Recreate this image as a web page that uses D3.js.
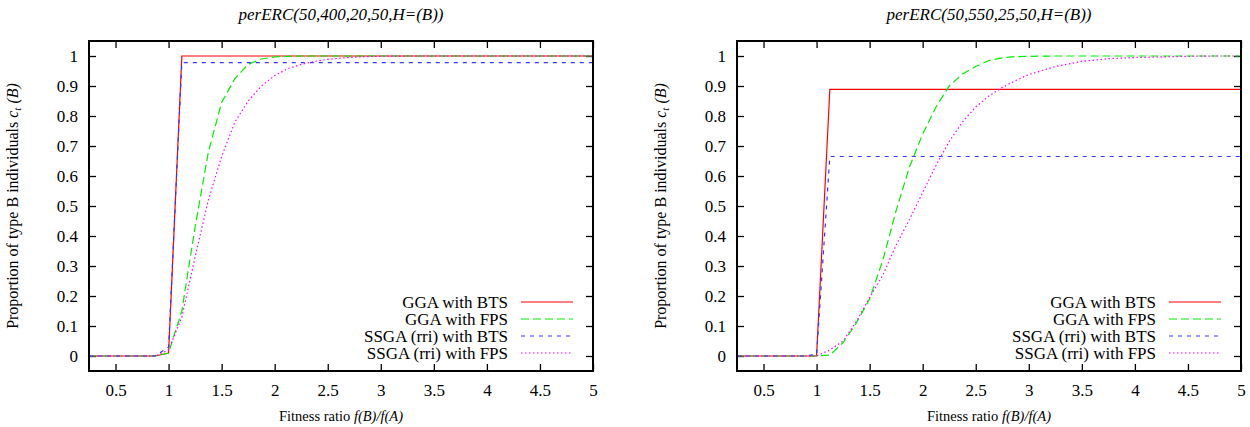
<!DOCTYPE html>
<html>
<head>
<meta charset="utf-8">
<script src="https://cdn.jsdelivr.net/npm/d3@7"></script>
<style>
  body { margin: 0; background: #fff; }
  svg text { font-family: "Liberation Serif", "Times New Roman", Times, "DejaVu Serif", serif; fill: #000; }
</style>
</head>
<body>
<div id="chart"></div>
<script>
// fitness ratio samples shared by both panels
var ratios = [0.25, 0.5, 0.75, 0.875, 1, 1.125, 1.25, 1.375, 1.5, 1.625, 1.75, 1.875, 2, 2.125,
    2.25, 2.375, 2.5, 2.625, 2.75, 2.875, 3, 3.25, 3.5, 3.75, 4, 4.25, 4.5, 4.75, 5];

var seriesNames = ['GGA with BTS', 'GGA with FPS', 'SSGA (rri) with BTS', 'SSGA (rri) with FPS'];
var xTicks = [0.5, 1, 1.5, 2, 2.5, 3, 3.5, 4, 4.5, 5];
var yTicks = [0, 0.1, 0.2, 0.3, 0.4, 0.5, 0.6, 0.7, 0.8, 0.9, 1];

// left panel: perERC(50,400,20,50,H=(B))
var leftGgaBts = [0, 0, 0, 0, 0.01, 1, 1, 1, 1, 1, 1, 1, 1, 1, 1, 1, 1, 1, 1, 1, 1, 1, 1, 1, 1, 1, 1, 1, 1];
var leftGgaFps = [0, 0, 0, 0, 0.01, 0.15, 0.43, 0.68, 0.845, 0.925, 0.972, 0.99, 0.997, 0.999,
    1, 1, 1, 1, 1, 1, 1, 1, 1, 1, 1, 1, 1, 1, 1];
var leftSsgaBts = [0, 0, 0, 0, 0.03, 0.978, 0.978, 0.978, 0.978, 0.978, 0.978, 0.978, 0.978, 0.978,
    0.978, 0.978, 0.978, 0.978, 0.978, 0.978, 0.978, 0.978, 0.978, 0.978, 0.978, 0.978, 0.978, 0.978, 0.978];
var leftSsgaFps = [0, 0, 0, 0, 0.02, 0.13, 0.33, 0.52, 0.665, 0.78, 0.85, 0.9, 0.935, 0.958,
    0.972, 0.982, 0.989, 0.993, 0.996, 0.998, 0.999, 1, 1, 1, 1, 1, 1, 1, 1];

// right panel: perERC(50,550,25,50,H=(B))
var rightGgaBts = [0, 0, 0, 0, 0, 0.889, 0.889, 0.889, 0.889, 0.889, 0.889, 0.889, 0.889, 0.889,
    0.889, 0.889, 0.889, 0.889, 0.889, 0.889, 0.889, 0.889, 0.889, 0.889, 0.889, 0.889, 0.889, 0.889, 0.889];
var rightGgaFps = [0, 0, 0, 0, 0, 0.003, 0.045, 0.11, 0.19, 0.32, 0.485, 0.63, 0.74, 0.83,
    0.9, 0.94, 0.965, 0.985, 0.994, 0.998, 0.999, 1, 1, 1, 1, 1, 1, 1, 1];
var rightSsgaBts = [0, 0, 0, 0, 0.005, 0.665, 0.665, 0.665, 0.665, 0.665, 0.665, 0.665, 0.665, 0.665,
    0.665, 0.665, 0.665, 0.665, 0.665, 0.665, 0.665, 0.665, 0.665, 0.665, 0.665, 0.665, 0.665, 0.665, 0.665];
var rightSsgaFps = [0, 0, 0, 0, 0, 0.02, 0.05, 0.115, 0.195, 0.27, 0.37, 0.455, 0.545, 0.635,
    0.715, 0.78, 0.83, 0.867, 0.895, 0.918, 0.938, 0.965, 0.982, 0.991, 0.995, 0.997, 0.999, 1, 1];

var colors = ['#ff0000', '#00ee00', '#3535ff', '#ff00ff'];
var dashes = [null, '8,4', '4,5', '1.5,2.5'];

var svgWidth = 1250;
var svgHeight = 427;

var svg = d3.select('#chart')
    .append('svg')
    .attr('width', svgWidth)
    .attr('height', svgHeight);

function drawPanel(left, title, series) {
    var width = 504;
    var top = 41, height = 330;

    var g = svg.append('g')
        .attr('transform', `translate(${left}, ${top})`);

    var xScale = d3.scaleLinear().domain([0.25, 5]).range([0, width]);
    var yScale = d3.scaleLinear().domain([-0.05, 1.05]).range([height, 0]);
    var fmt = d3.format('~g');

    // ticks on all four sides, pointing inward
    var tickLen = 7;
    g.append('g').attr('transform', `translate(0,${height})`)
        .call(d3.axisBottom(xScale).tickValues(xTicks).tickSizeInner(-tickLen).tickSizeOuter(0).tickPadding(13)
            .tickFormat(fmt));
    g.append('g')
        .call(d3.axisTop(xScale).tickValues(xTicks).tickSizeInner(-tickLen).tickSizeOuter(0).tickFormat(''));
    g.append('g')
        .call(d3.axisLeft(yScale).tickValues(yTicks).tickSizeInner(-tickLen).tickSizeOuter(0).tickPadding(11)
            .tickFormat(fmt));
    g.append('g').attr('transform', `translate(${width},0)`)
        .call(d3.axisRight(yScale).tickValues(yTicks).tickSizeInner(-tickLen).tickSizeOuter(0).tickFormat(''));

    g.selectAll('.domain').remove();
    g.selectAll('.tick line').attr('stroke', '#000').attr('stroke-width', 1.3);
    g.selectAll('.tick text')
        .attr('font-size', 17)
        .attr('fill', '#000');

    var line = d3.line()
        .x((d, i) => xScale(ratios[i]))
        .y(d => yScale(d));

    series.forEach(function(values, k) {
        g.append('path')
            .datum(values)
            .attr('d', line)
            .attr('fill', 'none')
            .attr('stroke', colors[k])
            .attr('stroke-width', 1.2)
            .attr('stroke-dasharray', dashes[k]);
    });

    g.append('rect')
        .attr('width', width)
        .attr('height', height)
        .attr('fill', 'none')
        .attr('stroke', '#000')
        .attr('stroke-width', 2);

    // legend
    var legend = g.append('g').attr('transform', `translate(${width - 72}, ${302 - top})`);
    seriesNames.forEach(function(name, k) {
        var row = legend.append('g').attr('transform', `translate(0, ${k * 17})`);
        row.append('text')
            .attr('x', -13)
            .attr('y', 5.5)
            .attr('text-anchor', 'end')
            .attr('font-size', 17)
            .text(name);
        row.append('line')
            .attr('x1', 0)
            .attr('x2', 52)
            .attr('stroke', colors[k])
            .attr('stroke-width', 1.2)
            .attr('stroke-dasharray', dashes[k]);
    });

    // title
    svg.append('text')
        .attr('x', left + width / 2)
        .attr('y', 20)
        .attr('text-anchor', 'middle')
        .attr('font-size', 17)
        .attr('font-style', 'italic')
        .text(title);

    // x label
    var xl = svg.append('text')
        .attr('x', left + width / 2)
        .attr('y', 421)
        .attr('text-anchor', 'middle')
        .attr('font-size', 14.5);
    xl.append('tspan').text('Fitness ratio ');
    xl.append('tspan').attr('font-style', 'italic').text('f(B)/f(A)');

    // y label
    var yl = svg.append('text')
        .attr('transform', `translate(${left - 71}, ${top + height / 2}) rotate(-90)`)
        .attr('text-anchor', 'middle')
        .attr('font-size', 16);
    yl.append('tspan').text('Proportion of type B individuals ');
    yl.append('tspan').attr('font-style', 'italic').text('c');
    yl.append('tspan').attr('font-style', 'italic').attr('font-size', 11).attr('dy', 3).text('t');
    yl.append('tspan').attr('font-style', 'italic').attr('dy', -3).text(' (B)');
}

drawPanel(89, 'perERC(50,400,20,50,H=(B))', [leftGgaBts, leftGgaFps, leftSsgaBts, leftSsgaFps]);
drawPanel(737, 'perERC(50,550,25,50,H=(B))', [rightGgaBts, rightGgaFps, rightSsgaBts, rightSsgaFps]);
</script>
</body>
</html>
